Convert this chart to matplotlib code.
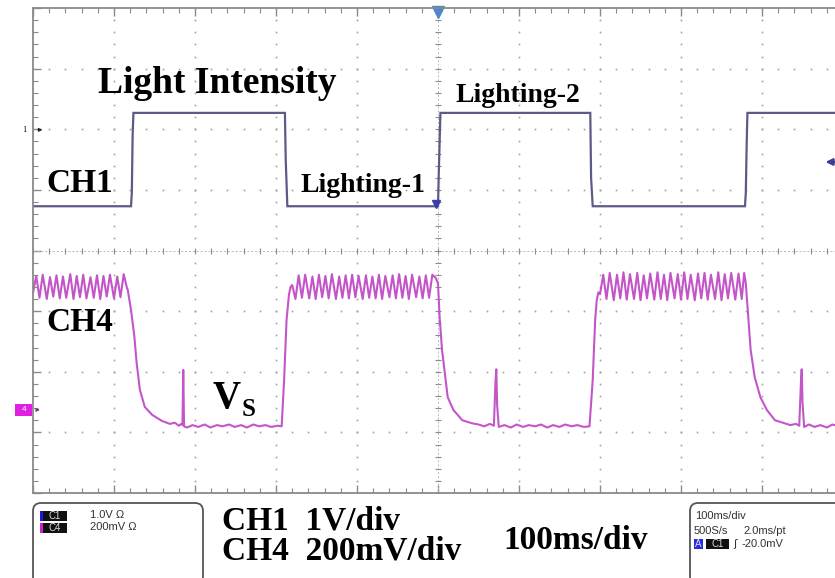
import matplotlib
matplotlib.use('Agg')
import matplotlib.pyplot as plt
from matplotlib.patches import FancyBboxPatch, Rectangle
import numpy as np

# CH1 (light intensity), time in ms, level in screen divisions
ch1_t = [0, 121, 122, 123, 124, 311, 312, 314, 500, 501, 503, 688, 689, 691, 879, 880, 881, 882, 1000]
ch1_v = [0.73, 0.73, 0.95, 1.90, 2.27, 2.27, 1.50, 0.73, 0.73, 1.30, 2.27, 2.27, 1.20, 0.73, 0.73, 0.95, 1.70, 2.27, 2.27]

# CH4 (Vs) pieces
high_1_t = [0, 4, 8, 12, 17, 21, 25, 29, 33, 37, 41, 46, 50, 54, 58, 62, 66, 71, 75, 79,
            83, 87, 91, 95, 100, 104, 108, 112, 116]
high_1_v = [-0.70, -0.42, -0.78, -0.40, -0.80, -0.44, -0.76, -0.41, -0.79, -0.43,
            -0.78, -0.39, -0.80, -0.42, -0.77, -0.40, -0.79, -0.44, -0.78, -0.41,
            -0.80, -0.42, -0.76, -0.40, -0.79, -0.43, -0.77, -0.39, -0.62]
fall_1_t = [117, 121, 125, 128, 132, 138, 147, 159, 169]
fall_1_v = [-0.65, -0.98, -1.40, -1.86, -2.30, -2.58, -2.71, -2.81, -2.86]
low_1_t = [175, 180, 183, 184.5, 185.5, 186.5, 190, 197, 204, 212, 219, 227, 234, 242,
           249, 257, 264, 272, 279, 287, 294, 302, 307]
low_1_v = [-2.84, -2.89, -2.86, -2.88, -1.97, -2.90, -2.92, -2.88, -2.91, -2.87, -2.92,
           -2.88, -2.90, -2.87, -2.91, -2.88, -2.92, -2.87, -2.90, -2.88, -2.91, -2.89, -2.90]
rise_1_t = [310, 313, 316, 318]
rise_1_v = [-2.14, -1.15, -0.73, -0.60]
high_2_t = [320, 324, 328, 332, 336, 341, 345, 349, 353, 357, 361, 365, 369, 374, 378,
            382, 386, 390, 394, 398, 402, 407, 411, 415, 419, 423, 427, 431, 435, 440,
            444, 448, 452, 456, 460, 464, 468, 473, 477, 481, 485, 489, 493, 497]
high_2_v = [-0.57, -0.80, -0.41, -0.78, -0.40, -0.79, -0.43, -0.80, -0.40, -0.77,
            -0.42, -0.79, -0.39, -0.80, -0.43, -0.78, -0.41, -0.79, -0.40, -0.77,
            -0.42, -0.80, -0.41, -0.78, -0.43, -0.79, -0.40, -0.80, -0.42, -0.77,
            -0.41, -0.79, -0.39, -0.78, -0.42, -0.80, -0.40, -0.77, -0.43, -0.79,
            -0.41, -0.78, -0.40, -0.45]
fall_2_t = [500, 502, 505, 509, 512, 519, 530, 542]
fall_2_v = [-0.54, -1.10, -1.64, -2.09, -2.42, -2.63, -2.80, -2.85]
low_2_t = [550, 557, 564, 569, 571, 572, 573, 575, 582, 590, 597, 605, 612, 620, 627,
           635, 642, 650, 657, 665, 672, 680, 687]
low_2_v = [-2.87, -2.90, -2.86, -2.89, -2.15, -1.96, -2.55, -2.91, -2.88, -2.92, -2.87,
           -2.91, -2.88, -2.90, -2.87, -2.92, -2.88, -2.91, -2.87, -2.90, -2.88, -2.91, -2.90]
rise_2_t = [691, 694, 696, 698]
rise_2_v = [-2.14, -1.15, -0.82, -0.69]
high_3_t = [700, 704, 708, 712, 717, 721, 725, 729, 733, 737, 742, 746, 750, 754, 758,
            762, 767, 771, 775, 779, 783, 787, 792, 796, 800, 804, 808, 812, 817, 821,
            825, 829, 833, 837, 842, 846, 850, 854, 858, 862, 867, 871, 875, 878]
high_3_v = [-0.72, -0.40, -0.80, -0.37, -0.82, -0.40, -0.79, -0.36, -0.81, -0.39,
            -0.80, -0.37, -0.82, -0.41, -0.79, -0.38, -0.81, -0.36, -0.80, -0.40,
            -0.82, -0.37, -0.79, -0.39, -0.81, -0.36, -0.80, -0.40, -0.82, -0.38,
            -0.79, -0.37, -0.81, -0.40, -0.80, -0.36, -0.82, -0.39, -0.79, -0.37,
            -0.81, -0.38, -0.80, -0.37]
fall_3_t = [880, 883, 886, 891, 898, 906, 916, 928]
fall_3_v = [-0.54, -1.10, -1.64, -2.09, -2.42, -2.63, -2.80, -2.85]
low_3_t = [935, 942, 946, 948, 949, 950, 952, 958, 965, 972, 980, 987, 995, 1000]
low_3_v = [-2.88, -2.86, -2.89, -2.20, -1.96, -2.50, -2.91, -2.87, -2.91, -2.88, -2.92,
           -2.87, -2.90, -2.89]

ch4_t = (high_1_t + fall_1_t + low_1_t + rise_1_t + high_2_t + fall_2_t + low_2_t
         + rise_2_t + high_3_t + fall_3_t + low_3_t)
ch4_v = (high_1_v + fall_1_v + low_1_v + rise_1_v + high_2_v + fall_2_v + low_2_v
         + rise_2_v + high_3_v + fall_3_v + low_3_v)

serif = 'Liberation Serif'
sans = 'Liberation Sans'

fig = plt.figure(figsize=(8.35, 5.78), dpi=100)
ax = fig.add_axes([33/835, 85/578, 810/835, 485/578])
ax.set_xlim(0, 1000)
ax.set_ylim(-4, 4)

# graticule
grid_c = '#a0a0a0'
for gx in [100, 200, 300, 400, 600, 700, 800, 900]:
    yy = np.arange(-4, 4.01, 0.2)
    ax.plot([gx] * len(yy), yy, ls='none', marker='s', ms=1.2, color=grid_c, mew=0)
for gy in [-3, -2, -1, 1, 2, 3]:
    xx = np.arange(0, 1001, 20)
    ax.plot(xx, [gy] * len(xx), ls='none', marker='s', ms=1.2, color=grid_c, mew=0)
ax.axhline(0, color='#b8b8b8', lw=0.7, ls=(0, (2, 2)))
ax.axvline(500, color='#b8b8b8', lw=0.7, ls=(0, (2, 2)))
xx = np.arange(0, 1001, 20)
ax.plot(xx, [0] * len(xx), ls='none', marker='|', ms=5, color='#8c8c8c', mew=0.8)
yy = np.arange(-4, 4.01, 0.2)
ax.plot([500] * len(yy), yy, ls='none', marker='_', ms=5, color='#8c8c8c', mew=0.8)

for s in ['left', 'top', 'bottom']:
    ax.spines[s].set_color('#8a8a8a')
    ax.spines[s].set_linewidth(1.3)
ax.spines['right'].set_visible(False)
ax.set_xticks(np.arange(0, 1001, 100))
ax.set_xticks(np.arange(0, 1001, 20), minor=True)
ax.set_yticks(np.arange(-4, 4.1, 1))
ax.set_yticks(np.arange(-4, 4.01, 0.2), minor=True)
ax.tick_params(which='both', direction='in', top=True, bottom=True, left=True, right=False,
               labelbottom=False, labelleft=False, color='#8a8a8a')
ax.tick_params(which='major', length=6, width=1)
ax.tick_params(which='minor', length=3.5, width=0.8)

# traces
ax.plot(ch1_t, ch1_v, color='#5b5b88', lw=1.6, solid_joinstyle='miter')
ax.plot(ch4_t, ch4_v, color='#c455c8', lw=1.5)

# markers
ax.plot([500], [3.93], marker='v', ms=8, color='#4f86c6', clip_on=False)
ax.plot([497], [0.76], marker='v', ms=6, color='#3d3da8', clip_on=False)
ax.annotate('', xy=(975, 1.46), xytext=(1002, 1.46),
            arrowprops=dict(arrowstyle='-|>', color='#3d3d9a', lw=1.6, mutation_scale=10),
            annotation_clip=False)
ax.text(-11, 1.99, '1', fontsize=6, ha='center', va='center', family=serif, clip_on=False)
ax.annotate('', xy=(15, 1.99), xytext=(3, 1.99),
            arrowprops=dict(arrowstyle='-|>', color='#222222', lw=0.8, mutation_scale=5),
            annotation_clip=False)
ax.add_patch(Rectangle((-22, -2.73), 21, 0.2, facecolor='#e020e0', edgecolor='none',
                       clip_on=False))
ax.text(-11.5, -2.63, '4', fontsize=6, color='white', ha='center', va='center',
        family=sans, clip_on=False)
ax.annotate('', xy=(12, -2.63), xytext=(2, -2.63),
            arrowprops=dict(arrowstyle='-|>', color='#8a3a8a', lw=0.8, mutation_scale=5),
            annotation_clip=False)

# annotations inside the screen
ax.text(80, 2.60, 'Light Intensity', fontsize=27, fontweight='bold', family=serif, va='baseline')
ax.text(17, 0.965, 'CH1', fontsize=24, fontweight='bold', family=serif, va='baseline')
ax.text(330, 0.965, 'Lighting-1', fontsize=20, fontweight='bold', family=serif, va='baseline')
ax.text(521, 2.45, 'Lighting-2', fontsize=20, fontweight='bold', family=serif, va='baseline')
ax.text(17, -1.33, 'CH4', fontsize=24, fontweight='bold', family=serif, va='baseline')
ax.text(222, -2.60, 'V', fontsize=28, fontweight='bold', family=serif, va='baseline')
ax.text(258, -2.73, 'S', fontsize=18, fontweight='bold', family=serif, va='baseline')

# bottom info panel, in pixel units via inches
tr = fig.dpi_scale_trans


def inch(x, y):
    return x / 100, (578 - y) / 100


def badge(x0, x1, y0, y1, color, label):
    bx, by = inch(x0, y1)
    fig.add_artist(Rectangle((bx, by), (x1 - x0) / 100, (y1 - y0) / 100, transform=tr,
                             facecolor=color, edgecolor='none'))
    if label:
        cx, cy = inch((x0 + x1) / 2, (y0 + y1) / 2)
        fig.text(cx, cy, label, transform=tr, fontsize=7, color='#dddddd', ha='center',
                 va='center', family=sans)


bx, by = inch(33, 585)
fig.add_artist(FancyBboxPatch((bx, by), 1.70, 0.82, transform=tr,
                              boxstyle='round,pad=0,rounding_size=0.08',
                              facecolor='white', edgecolor='#555555', lw=1.3))
bx, by = inch(690, 585)
fig.add_artist(FancyBboxPatch((bx, by), 1.60, 0.82, transform=tr,
                              boxstyle='round,pad=0,rounding_size=0.08',
                              facecolor='white', edgecolor='#555555', lw=1.3))

badge(40, 43, 511, 521, '#1a1ad8', '')
badge(43, 67, 511, 521, '#111111', 'C1')
badge(40, 43, 523, 533, '#d020d0', '')
badge(43, 67, 523, 533, '#111111', 'C4')
x, y = inch(90, 515.5)
fig.text(x, y, '1.0V \u03a9', transform=tr, fontsize=8, va='center', family=sans, color='#333333')
x, y = inch(90, 527.5)
fig.text(x, y, '200mV \u03a9', transform=tr, fontsize=8, va='center', family=sans, color='#333333')

x, y = inch(695, 516)
fig.text(x, y, '100ms/div', transform=tr, fontsize=8, va='center', family=sans, color='#333333')
x, y = inch(694, 531)
fig.text(x, y, '500S/s', transform=tr, fontsize=8, va='center', family=sans, color='#333333')
x, y = inch(743, 531)
fig.text(x, y, '2.0ms/pt', transform=tr, fontsize=8, va='center', family=sans, color='#333333')
badge(694, 703, 539, 549, '#2a2ae6', 'A')
badge(706, 729, 539, 549, '#111111', 'C1')
x, y = inch(733, 544)
fig.text(x, y, '\u0283', transform=tr, fontsize=8, va='center', family='DejaVu Sans', color='#333333')
x, y = inch(741, 544)
fig.text(x, y, '-20.0mV', transform=tr, fontsize=8, va='center', family=sans, color='#333333')

x, y = inch(222, 530)
fig.text(x, y, 'CH1  1V/div', transform=tr, fontsize=24, fontweight='bold', family=serif, va='baseline')
x, y = inch(222, 560)
fig.text(x, y, 'CH4  200mV/div', transform=tr, fontsize=24, fontweight='bold', family=serif, va='baseline')
x, y = inch(503, 549)
fig.text(x, y, '100ms/div', transform=tr, fontsize=24, fontweight='bold', family=serif, va='baseline')

fig.savefig('out.png', dpi=100)
